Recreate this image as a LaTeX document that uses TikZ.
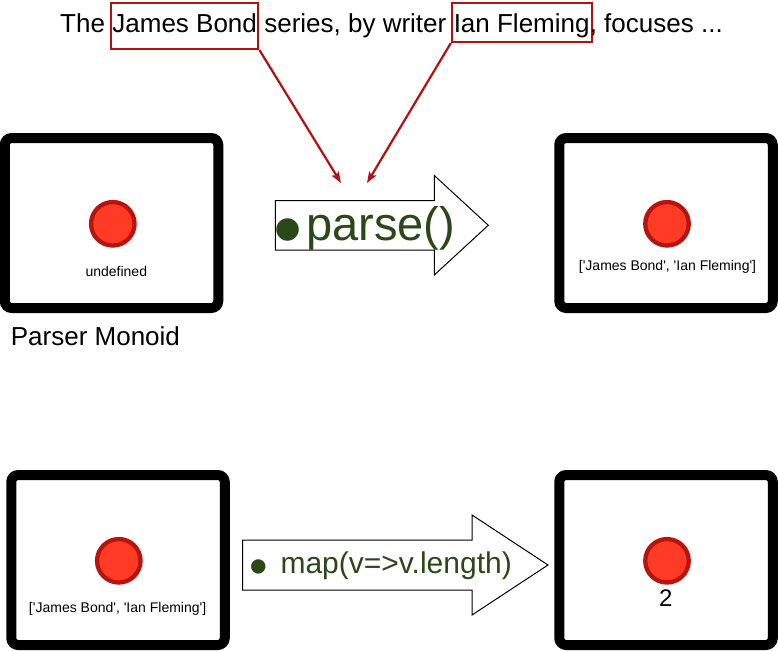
\documentclass[tikz,border=0pt]{standalone}
\usepackage{fontspec}
\setmainfont{Liberation Sans}[Ligatures=TeXOff]
\usetikzlibrary{positioning,arrows.meta}

\definecolor{dotfill}{RGB}{255,59,38}
\definecolor{dotline}{RGB}{184,20,14}
\definecolor{linkred}{RGB}{180,16,16}
\definecolor{codegreen}{RGB}{42,72,24}

\newcommand{\px}[1]{\fontsize{#1}{#1}\selectfont}

\begin{document}
\begin{tikzpicture}[x=1pt,y=-1pt]

			\tikzstyle{monoid}=[draw=black,fill=white,line width=10pt,
				rounded corners=7pt,inner sep=0pt,
				minimum width=213.5pt,minimum height=170pt,
				node distance=554.5pt]
			\tikzstyle{dot}=[circle,draw=dotline,fill=dotfill,
				line width=4.3pt,minimum size=43.5pt,inner sep=0pt]
			\tikzstyle{val}=[inner sep=0pt,anchor=base,font=\px{14}]
			\tikzstyle{word}=[inner sep=0pt,anchor=base west,font=\px{26}]
			\tikzstyle{namebox}=[word,draw=linkred,line width=2pt,inner ysep=0pt]
			\tikzstyle{link}=[linkred,line width=2.2pt,
				-{Stealth[length=11pt,width=8pt,inset=2pt]}]
			\tikzstyle{fnarrow}=[draw=black,fill=white,line width=1pt]
			\tikzstyle{fn}=[inner sep=0pt,anchor=base west,text=codegreen]

			\useasboundingbox (0,0) rectangle (778,650);

			% the sentence
			\node[word]		(s1)	at (60,32.3)	{The};
			\node[namebox,inner xsep=1.5pt,text height=28.8pt,text depth=16.7pt]
				(jb)	at ([xshift=4.7pt]s1.base east)	{James Bond};
			\node[word]		(s2)	at ([xshift=4.7pt]jb.base east)	{series, by writer};
			\node[namebox,inner xsep=1.9pt,text height=29.3pt,text depth=9.7pt]
				(ifl)	at ([xshift=4.3pt]s2.base east)	{Ian Fleming};
			\node[word]		(s3)	at ([xshift=-2.9pt]ifl.base east)	{, focuses ...};

			% the monoids
			\node[monoid]			(m1)	at (111.5,223)	{};
			\node[monoid,right of=m1]	(m2)	{};
			\node[monoid]			(m3)	at (118,560)	{};
			\node[monoid,right of=m3,node distance=548pt]	(m4)	{};

			\node[dot]	(d1)	at (112.8,223.8)	{};
			\node[dot]	(d2)	at (667,223.8)	{};
			\node[dot]	(d3)	at (118.8,560.8)	{};
			\node[dot]	(d4)	at (667,560.8)	{};

			\node[val]	(v1)	at (116.3,276.6)	{undefined};
			\node[val]	(v2)	at (667.5,270.5)	{['James Bond', 'Ian Fleming']};
			\node[val]	(v3)	at (117.6,612.5)	{['James Bond', 'Ian Fleming']};
			\node[val,font=\px{24}]	(v4)	at (665.7,606.7)	{2};

			\node[word]	(title)	at (10.7,345.7)	{Parser Monoid};

			% the functions
			\draw[fnarrow] (275.3,200.5) -- (434.3,200.5) -- (434.3,175.5)
				-- (488.3,225.25) -- (434.3,275) -- (434.3,250) -- (275.3,250) -- cycle;
			\draw[fnarrow] (242.5,540) -- (472,540) -- (472,515)
				-- (548,565) -- (472,615) -- (472,590) -- (242.5,590) -- cycle;

			\node[fn,font=\px{47}]	(parse)	at (273.4,240.7)
				{\raisebox{-17pt}{\px{83}•}\hspace{3.6pt}parse()};
			\node[fn,font=\px{30}]	(map)	at (249.4,573.3)
				{\raisebox{-11pt}{\px{53}•}\hspace{12.4pt}map(v=>v.length)};

			\coordinate (t1) at (341,183);
			\coordinate (t2) at (367,183);
			\draw[link] (jb.south east) -- (t1);
			\draw[link] (ifl.south west) -- (t2);

		\end{tikzpicture}
\end{document}
